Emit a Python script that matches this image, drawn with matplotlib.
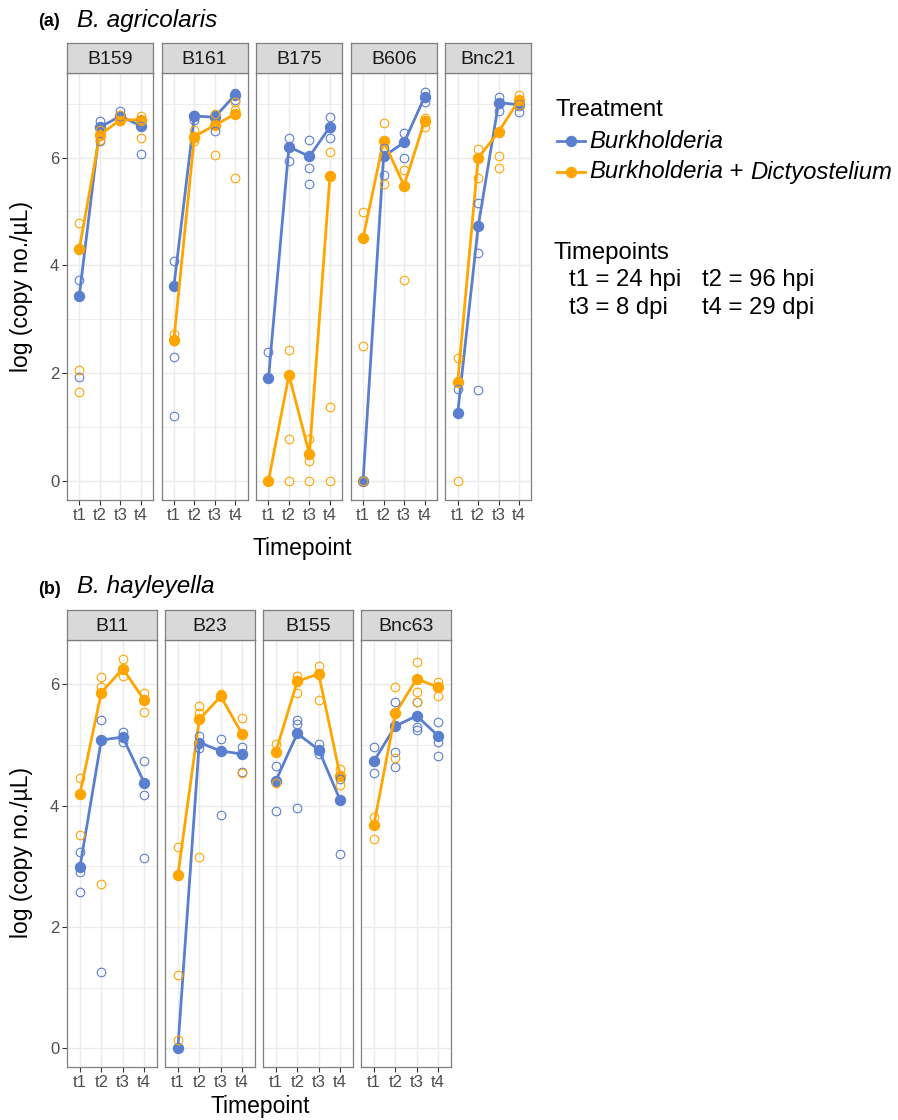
import numpy as np
import matplotlib.pyplot as plt
from matplotlib.lines import Line2D

plt.rcParams['font.family'] = ['Liberation Sans', 'DejaVu Sans']

times = ['t1', 't2', 't3', 't4']
blue = '#5b7fcf'
orange = '#ffa500'

# ---- panel (a) B. agricolaris ----
strains_a = ['B159', 'B161', 'B175', 'B606', 'Bnc21']
mean_b_a = {
    'B159': [3.43, 6.56, 6.77, 6.59],
    'B161': [3.61, 6.77, 6.75, 7.17],
    'B175': [1.90, 6.20, 6.02, 6.57],
    'B606': [0.00, 6.02, 6.28, 7.12],
    'Bnc21': [1.25, 4.72, 7.02, 6.98],
}
mean_o_a = {
    'B159': [4.30, 6.42, 6.70, 6.70],
    'B161': [2.62, 6.39, 6.60, 6.81],
    'B175': [0.00, 1.96, 0.49, 5.65],
    'B606': [4.51, 6.31, 5.48, 6.67],
    'Bnc21': [1.83, 5.99, 6.48, 7.07],
}
reps_b_a = {
    'B159': [[3.72, 1.93], [6.67, 6.56, 6.30], [6.87, 6.77], [6.70, 6.59, 6.06]],
    'B161': [[4.07, 2.30, 1.20], [6.79, 6.70], [6.79, 6.50], [7.19, 7.07]],
    'B175': [[2.38], [6.36, 5.93], [6.33, 5.81, 5.51], [6.76, 6.36, 6.55]],
    'B606': [[0.00], [6.17, 5.68], [6.45, 5.99], [7.22, 7.04]],
    'Bnc21': [[1.71], [5.15, 4.22, 1.68], [7.13, 6.87], [7.00, 6.85]],
}
reps_o_a = {
    'B159': [[4.78, 2.05, 1.65], [6.51, 6.42, 6.33], [6.79, 6.68], [6.77, 6.70, 6.37]],
    'B161': [[2.72, 2.59], [6.51, 6.30], [6.81, 6.04], [7.04, 6.88, 5.62]],
    'B175': [[0.00], [2.42, 0.77, 0.00], [0.78, 0.37, 0.00], [6.11, 1.36, 0.00]],
    'B606': [[4.98, 2.50, 0.00], [6.65, 5.51], [5.77, 3.73], [6.73, 6.56]],
    'Bnc21': [[2.28, 0.00], [6.15, 5.62], [6.03, 5.80], [7.16, 6.98]],
}

# ---- panel (b) B. hayleyella ----
strains_b = ['B11', 'B23', 'B155', 'Bnc63']
mean_b_b = {
    'B11': [2.98, 5.08, 5.13, 4.38],
    'B23': [0.00, 5.04, 4.90, 4.85],
    'B155': [4.41, 5.19, 4.92, 4.09],
    'Bnc63': [4.73, 5.31, 5.48, 5.15],
}
mean_o_b = {
    'B11': [4.19, 5.86, 6.26, 5.74],
    'B23': [2.85, 5.42, 5.80, 5.18],
    'B155': [4.89, 6.05, 6.17, 4.49],
    'Bnc63': [3.68, 5.52, 6.09, 5.95],
}
reps_b_b = {
    'B11': [[3.23, 2.90, 2.57], [5.41, 1.26], [5.21, 5.05], [4.74, 4.18, 3.13]],
    'B23': [[0.00], [5.14, 4.95], [5.09, 3.85], [4.97, 4.56]],
    'B155': [[4.66, 3.91], [5.41, 5.35, 3.96], [5.02, 4.85], [4.44, 3.20]],
    'Bnc63': [[4.96, 4.53], [5.70, 4.89, 4.64], [5.71, 5.30, 5.24], [5.37, 5.05, 4.81]],
}
reps_o_b = {
    'B11': [[4.46, 3.52], [6.12, 5.95, 2.71], [6.41, 6.14], [5.85, 5.54]],
    'B23': [[3.31, 1.21, 0.14], [5.64, 5.52, 3.16], [5.84], [5.44, 4.53]],
    'B155': [[5.02, 4.37], [6.14, 5.86], [6.30, 5.74], [4.60, 4.34]],
    'Bnc63': [[3.81, 3.45], [5.95, 4.78], [6.37, 5.88, 5.71], [6.03, 5.81]],
}

W, H = 898, 1120
fig = plt.figure(figsize=(W / 100, H / 100), dpi=100)
tick_fs = 12
lab_fs = 16.5
leg_fs = 17.2


def px_axes(x0, y0, x1, y1):
    return fig.add_axes([x0 / W, 1 - y1 / H, (x1 - x0) / W, (y1 - y0) / H])


def draw_panel(x0, x1, top, bottom, strain, mb, mo, rb, ro, ylim, first):
    ax = px_axes(x0, top, x1, bottom)
    xs = np.arange(1, 5)
    for y in np.arange(-1, 8, 1.0):
        ax.axhline(y, color='#ebebeb', lw=0.6 if y % 2 else 1.0, zorder=0)
    for x in xs:
        ax.axvline(x, color='#ebebeb', lw=1.0, zorder=0)
    for col, m in ((blue, mb), (orange, mo)):
        ax.plot(xs, m, '-o', color=col, lw=2.0, ms=7.2, zorder=3)
    for col, reps in ((blue, rb), (orange, ro)):
        for i, vals in enumerate(reps):
            ax.plot([xs[i]] * len(vals), vals, 'o', mfc='none', mec=col,
                    ms=6.2, mew=0.8, zorder=4)
    ax.set_xlim(0.4, 4.6)
    ax.set_ylim(*ylim)
    ax.set_xticks(xs)
    ax.set_xticklabels(times, fontsize=tick_fs)
    ax.set_yticks([0, 2, 4, 6])
    ax.tick_params(colors='#333333', length=3.5, width=0.8, pad=2,
                   labelcolor='#4d4d4d')
    if first:
        ax.set_yticklabels(['0', '2', '4', '6'], fontsize=tick_fs)
    else:
        ax.tick_params(axis='y', length=0, labelleft=False)
    for s in ax.spines.values():
        s.set_color('#7f7f7f')
        s.set_linewidth(0.9)
    # strip
    sax = px_axes(x0, top - 30, x1, top)
    sax.set_facecolor('#d9d9d9')
    sax.set_xticks([])
    sax.set_yticks([])
    for s in sax.spines.values():
        s.set_color('#7f7f7f')
        s.set_linewidth(0.9)
    sax.text(0.5, 0.46, strain, ha='center', va='center', fontsize=14,
             color='#1a1a1a', transform=sax.transAxes)
    return ax


# panel (a)
left_a, w_a, gap_a = 67, 86, 8.6
for i, st in enumerate(strains_a):
    x0 = left_a + i * (w_a + gap_a)
    draw_panel(x0, x0 + w_a, 73, 500, st, mean_b_a[st], mean_o_a[st],
               reps_b_a[st], reps_o_a[st], (-0.36, 7.57), i == 0)

# panel (b)
left_b, w_b, gap_b = 67, 90, 8
for i, st in enumerate(strains_b):
    x0 = left_b + i * (w_b + gap_b)
    draw_panel(x0, x0 + w_b, 640, 1067, st, mean_b_b[st], mean_o_b[st],
               reps_b_b[st], reps_o_b[st], (-0.31, 6.73), i == 0)


def ftext(x, y, s, **kw):
    return fig.text(x / W, 1 - y / H, s, va='center', **kw)


# titles and axis labels
ftext(38, 22, '(a)', fontsize=13, fontweight='bold')
ftext(77, 20, 'B. agricolaris', fontsize=17.5, style='italic')
ftext(38, 589, '(b)', fontsize=13, fontweight='bold')
ftext(77, 587, 'B. hayleyella', fontsize=17.5, style='italic')

ftext(302, 548, 'Timepoint', fontsize=lab_fs, ha='center')
ftext(260, 1107, 'Timepoint', fontsize=lab_fs, ha='center')
ftext(22, 287, 'log (copy no./µL)', fontsize=lab_fs, rotation=90, ha='center')
ftext(22, 853, 'log (copy no./µL)', fontsize=lab_fs, rotation=90, ha='center')

# legend
ftext(556, 110, 'Treatment', fontsize=leg_fs)
renderer = fig.canvas.get_renderer()
for j, col in enumerate((blue, orange)):
    yy = 1 - (141 + 31 * j) / H
    fig.add_artist(Line2D([557 / W, 585 / W], [yy, yy], color=col, lw=2.0))
    fig.add_artist(Line2D([571 / W], [yy], color=col, marker='o', ms=7.2))
ftext(589, 141, 'Burkholderia', fontsize=leg_fs, style='italic')
parts = [('Burkholderia', 'italic'), (' + ', 'normal'), ('Dictyostelium', 'italic')]
xcur = 589
for s, sty in parts:
    t = ftext(xcur, 172, s, fontsize=leg_fs, style=sty)
    xcur += t.get_window_extent(renderer).width

ftext(553, 253, 'Timepoints', fontsize=leg_fs)
ftext(569, 280, 't1 = 24 hpi', fontsize=leg_fs)
ftext(702, 280, 't2 = 96 hpi', fontsize=leg_fs)
ftext(569, 308, 't3 = 8 dpi', fontsize=leg_fs)
ftext(702, 308, 't4 = 29 dpi', fontsize=leg_fs)

fig.savefig('out.png', dpi=100)
